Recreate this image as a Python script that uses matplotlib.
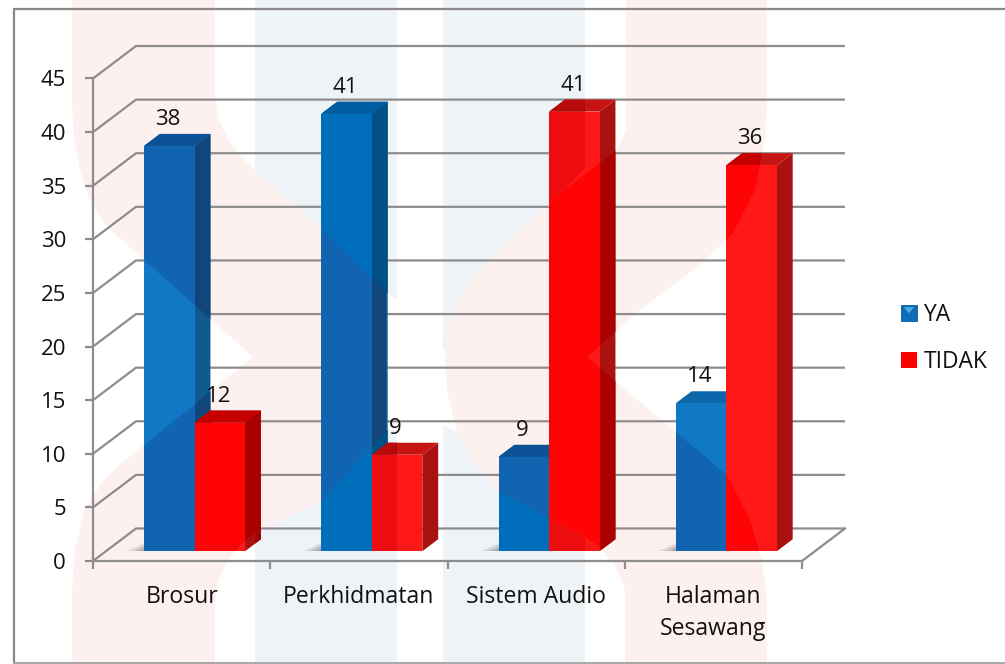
import matplotlib
matplotlib.use("Agg")
import matplotlib.pyplot as plt
from matplotlib.patches import Polygon, Rectangle

plt.rcParams['font.family'] = ['Open Sans', 'DejaVu Sans']

categories = ['Brosur', 'Perkhidmatan', 'Sistem Audio', 'Halaman\nSesawang']
ya_values = [38, 41, 9, 14]
tidak_values = [12, 9, 41, 36]
y_ticks = [0, 5, 10, 15, 20, 25, 30, 35, 40, 45]
series_names = ['YA', 'TIDAK']

W, H = 1005, 664
fig = plt.figure(figsize=(W / 100, H / 100), dpi=100, facecolor='white')

# page background: watermark in pixel coordinates
bg = fig.add_axes([0, 0, 1, 1], zorder=-1)
bg.set_xlim(0, W)
bg.set_ylim(H, 0)
bg.axis('off')
pink_shapes = [
    [(72, 0), (215, 0), (215, 95), (218, 118), (230, 143), (245, 160), (255, 170), (323, 230), (386, 292),
     (386, 430), (372, 447), (323, 500), (255, 533), (240, 545), (225, 565), (217, 585), (215, 605), (215, 664),
     (72, 664), (72, 590), (75, 550), (85, 510), (100, 485), (117, 467),
     (253, 357), (105, 225), (90, 200), (80, 170), (74, 140), (72, 100)],
    [(626, 0), (626, 130), (617, 150), (560, 193), (510, 240), (470, 280), (452, 310), (445, 350), (447, 390),
     (457, 433), (475, 465), (500, 493), (585, 537), (597, 545), (615, 565), (625, 590), (625, 664), (767, 664),
     (767, 600), (762, 560), (750, 520), (727, 475), (677, 433), (587, 357), (640, 310), (700, 265), (733, 233),
     (755, 190), (765, 140), (767, 100), (767, 0)],
]
blue_shapes = [
    [(255, 0), (397, 0), (397, 300), (386, 292), (323, 230), (255, 170)],
    [(255, 533), (323, 500), (372, 447), (386, 430), (397, 430), (397, 664), (255, 664)],
    [(443, 0), (585, 0), (585, 168), (560, 193), (510, 240), (470, 280), (452, 310), (445, 350), (443, 350)],
    [(443, 425), (457, 433), (475, 465), (500, 493), (585, 537), (585, 664), (443, 664)],
]
pink_clips = [bg.add_patch(Polygon(p, fc='#FDF1F0', ec='none')) for p in pink_shapes]
blue_clips = [bg.add_patch(Polygon(p, fc='#EEF3F8', ec='none')) for p in blue_shapes]
bg.plot([1005, 13.5, 13.5], [9, 9, 663], color='#8C8888', lw=1.6, solid_joinstyle='miter')
bg.plot([13.5, 1005], [663, 663], color='#A8A8A8', lw=1.4)

ax = fig.add_axes([93 / W, 1 - 561 / H, 709 / W, 482.5 / H])
ax.set_xlim(0, len(categories))
ax.set_ylim(0, 45)
ax.patch.set_alpha(0)

GRID = '#8E8C8C'
TXT = '#111111'
FS = 16
DX = 43 / (709 / 4)          # wall depth in x data units
DY = 32.5 / (482.5 / 45)     # wall depth in y data units
FRONT, DEPTH = 0.30, 0.37    # bar position and depth as fractions of wall depth
BAR_W = 0.285
BEVEL = 0.2                  # rounded blue tops sit slightly lower
PINK_D = (0, 20, 20)         # how much the watermark darkens a bar
BLUE_D = (16, 10, 9)

for v in y_ticks:
    ax.plot([0, DX, len(categories) + DX], [v, v + DY, v + DY], color=GRID, lw=1.6,
            clip_on=False, zorder=1, solid_capstyle='butt', solid_joinstyle='miter')
ax.plot([len(categories), len(categories) + DX], [0, DY], color=GRID, lw=1.6, clip_on=False, zorder=1)

for s in ('top', 'right'):
    ax.spines[s].set_visible(False)
for s in ('left', 'bottom'):
    ax.spines[s].set_color(GRID)
    ax.spines[s].set_linewidth(1.6)
    ax.spines[s].set_zorder(2)

ax.set_yticks(y_ticks)
ax.set_xticks(range(len(categories) + 1))
ax.set_xticklabels([])
ax.set_xticks([i + 0.5 for i in range(len(categories))], minor=True)
ax.set_xticklabels(categories, minor=True, fontsize=16.6, color=TXT, linespacing=1.49)
ax.tick_params(axis='y', length=5.8, width=1.6, color=GRID, labelsize=FS, labelcolor=TXT, pad=13.6)
ax.tick_params(axis='x', which='major', length=5.8, width=1.6, color=GRID)
ax.tick_params(axis='x', which='minor', length=0, pad=17)


def tone(rgb, delta=(0, 0, 0)):
    return tuple(max(c - d, 0) / 255 for c, d in zip(rgb, delta))


def face(verts, rgb, z):
    """One bar face: base colour, then the parts lying under the watermark."""
    ax.add_patch(Polygon(verts, fc=tone(rgb), ec='none', zorder=z, clip_on=False))
    for clips, delta in ((pink_clips, PINK_D), (blue_clips, BLUE_D)):
        for clip in clips:
            p = ax.add_patch(Polygon(verts, fc=tone(rgb, delta), ec='none', zorder=z))
            p.set_clip_path(clip)


def bar3d(x0, value, colors, label, bevel=0.0):
    front, top, side = colors
    base_x = x0 + FRONT * DX
    base_y = FRONT * DY
    x1 = base_x + BAR_W
    y1 = base_y + value - bevel
    ddx, ddy = DEPTH * DX, DEPTH * DY
    face([(x1, base_y), (x1 + ddx, base_y + ddy), (x1 + ddx, y1 + ddy), (x1, y1)], side, 3)
    face([(base_x, y1), (base_x + ddx, y1 + ddy), (x1 + ddx, y1 + ddy), (x1, y1)], top, 3)
    face([(base_x, base_y), (x1, base_y), (x1, y1), (base_x, y1)], front, 3.1)
    ax.annotate(label, (base_x + BAR_W / 2, y1), xytext=(-1, 19), textcoords='offset points',
                ha='center', va='center', fontsize=FS, color=TXT, zorder=6, annotation_clip=False)


BLUE_BAR = ((16, 120, 196), (13, 102, 170), (17, 90, 142))
RED_BAR = ((255, 24, 24), (198, 20, 20), (170, 18, 18))

for i, (ya, td) in enumerate(zip(ya_values, tidak_values)):
    c = i + 0.5
    bx = c - BAR_W + FRONT * DX
    for k, a in zip((1.0, 0.75, 0.5, 0.25), (0.12, 0.14, 0.16, 0.18)):
        ax.fill([bx - 0.10 * k, bx, bx], [FRONT * DY, FRONT * DY, FRONT * DY + 0.75 * k],
                color='#555555', alpha=a, ec='none', zorder=2.5, clip_on=False)
    bar3d(c - BAR_W, ya, BLUE_BAR, str(ya), bevel=BEVEL)
    bar3d(c, td, RED_BAR, str(td))

handles = [Rectangle((0, 0), 1, 1, fc='#0E6DB8', ec='#0A5A9C', lw=0.6),
           Rectangle((0, 0), 1, 1, fc='#FF0000', ec='none')]
leg = fig.legend(handles, series_names, loc='center left', bbox_to_anchor=(901 / W, 1 - 338.5 / H),
                 frameon=False, fontsize=16.4, handlelength=0.7, handleheight=0.7,
                 handletextpad=0.28, labelspacing=0.99, labelcolor=TXT, borderpad=0, borderaxespad=0)
fig.canvas.draw()
# light bevel mark on the YA legend key, placed on the key itself
key = leg.get_patches()[0].get_window_extent()
kx0, kx1, ky1 = key.x0, key.x1, key.y1
fig.add_artist(Polygon([(kx0 + 3, ky1 - 2), (kx1 - 3, ky1 - 2), ((kx0 + kx1) / 2, ky1 - 8)],
                       transform=None, fc='#4FAEE8', ec='none', zorder=20))

fig.savefig('out.png', dpi=100, facecolor='white')
